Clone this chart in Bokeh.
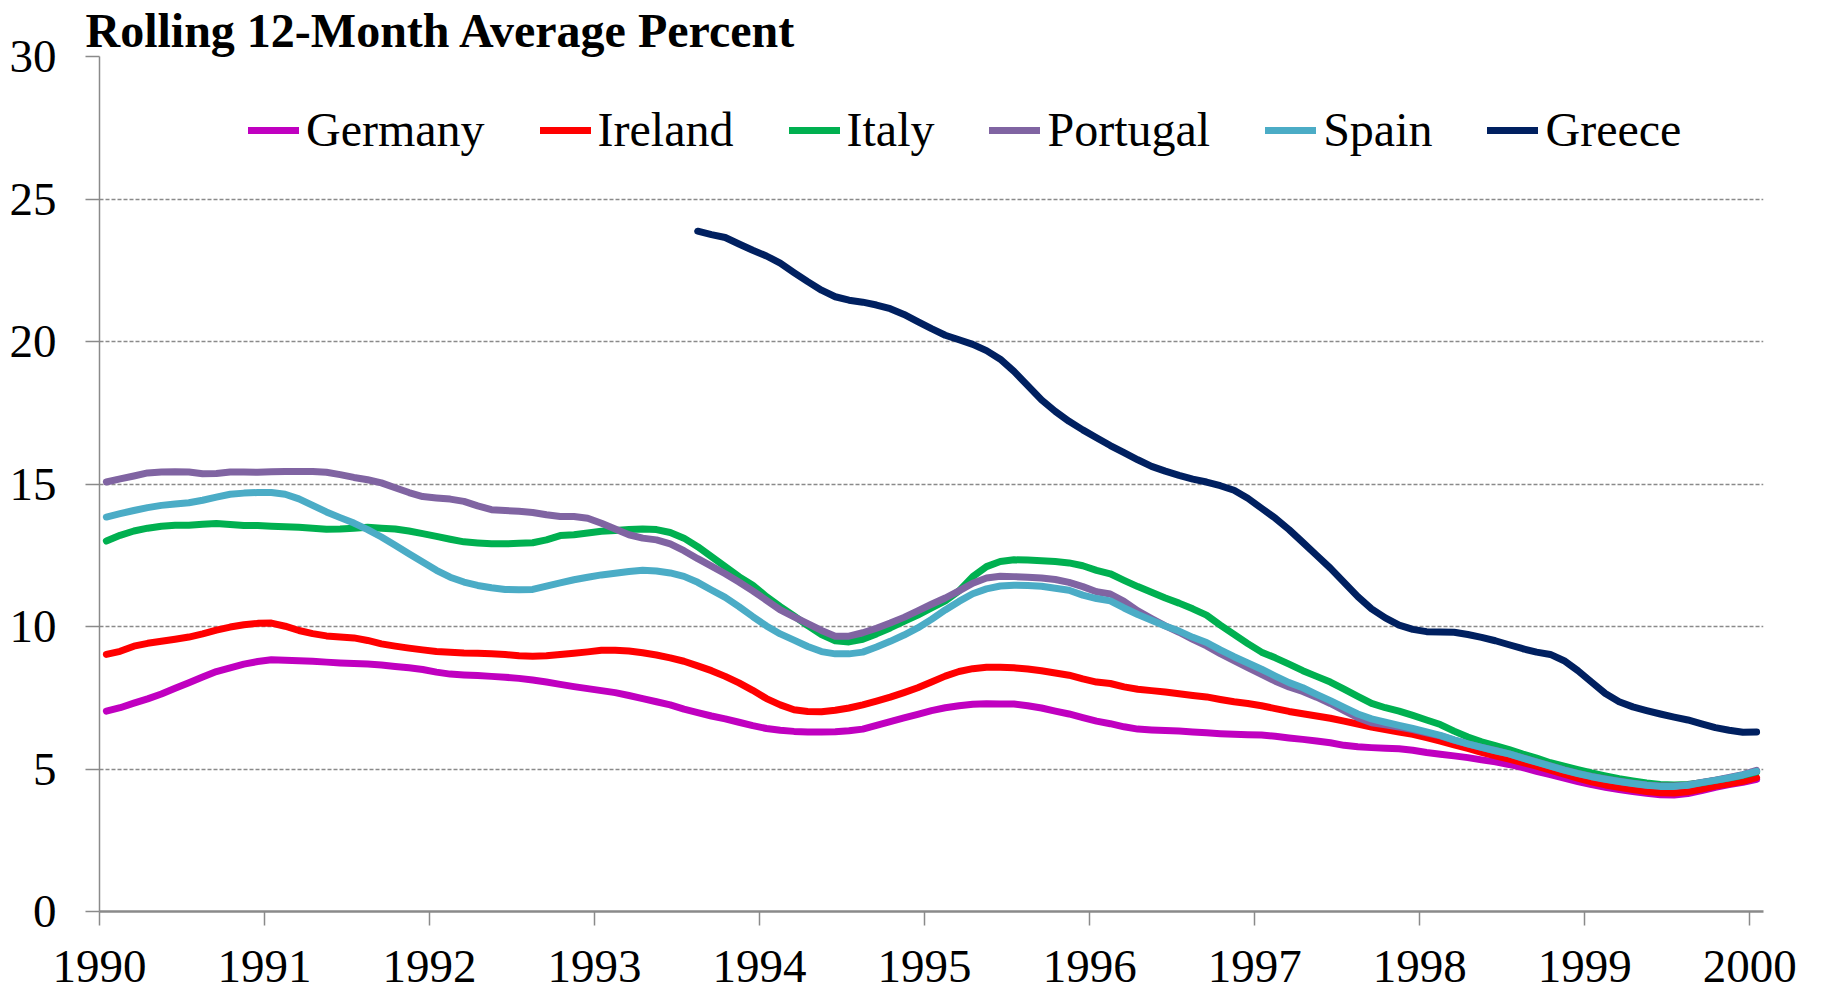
from bokeh.plotting import figure
from bokeh.models import Range1d, FixedTicker, Legend, LegendItem
from bokeh.embed import file_html
from bokeh.resources import INLINE

title_text = "Rolling 12-Month Average Percent"
first_year = 1990
n_months = 121          # Jan 1990 .. Jan 2000, monthly points at mid-month
greece_first_month = 43 # Aug 1993

year_ticks = list(range(1990, 2001))
year_labels = [str(y) for y in year_ticks]
value_ticks = [0, 5, 10, 15, 20, 25, 30]
value_labels = ["0", "5", "10", "15", "20", "25", "30"]

countries = ["Germany", "Ireland", "Italy", "Portugal", "Spain", "Greece"]

germany = [7.03, 7.15, 7.31, 7.46, 7.63, 7.83, 8.03, 8.23, 8.42, 8.55, 8.68, 8.77, 8.83,
           8.82, 8.80, 8.78, 8.75, 8.72, 8.70, 8.68, 8.65, 8.60, 8.55, 8.49, 8.40,
           8.33, 8.30, 8.28, 8.25, 8.22, 8.18, 8.12, 8.05, 7.97, 7.89, 7.82, 7.75,
           7.68, 7.58, 7.47, 7.36, 7.25, 7.10, 6.98, 6.86, 6.76, 6.64, 6.52, 6.42,
           6.36, 6.32, 6.30, 6.30, 6.31, 6.34, 6.40, 6.53, 6.66, 6.79, 6.92, 7.05,
           7.15, 7.22, 7.27, 7.29, 7.28, 7.28, 7.22, 7.14, 7.03, 6.93, 6.80, 6.68,
           6.59, 6.48, 6.40, 6.37, 6.35, 6.33, 6.30, 6.27, 6.24, 6.22, 6.20, 6.19,
           6.15, 6.09, 6.04, 5.98, 5.92, 5.83, 5.78, 5.75, 5.73, 5.71, 5.66, 5.58,
           5.52, 5.46, 5.40, 5.32, 5.25, 5.16, 5.05, 4.92, 4.80, 4.68, 4.56, 4.45,
           4.36, 4.28, 4.21, 4.15, 4.10, 4.09, 4.14, 4.24, 4.36, 4.45, 4.53, 4.64]

ireland = [9.02, 9.13, 9.31, 9.41, 9.48, 9.55, 9.63, 9.74, 9.87, 9.98, 10.06, 10.11, 10.12,
           10.01, 9.86, 9.75, 9.67, 9.63, 9.60, 9.51, 9.39, 9.31, 9.24, 9.18, 9.12,
           9.10, 9.07, 9.06, 9.04, 9.02, 8.97, 8.96, 8.97, 9.02, 9.06, 9.11, 9.17,
           9.17, 9.14, 9.08, 9.00, 8.90, 8.78, 8.62, 8.45, 8.25, 8.02, 7.76, 7.47,
           7.25, 7.08, 7.02, 7.01, 7.06, 7.14, 7.25, 7.38, 7.52, 7.68, 7.85, 8.05,
           8.26, 8.42, 8.52, 8.57, 8.57, 8.55, 8.51, 8.45, 8.37, 8.29, 8.16, 8.05,
           8.00, 7.88, 7.80, 7.75, 7.70, 7.64, 7.58, 7.53, 7.44, 7.36, 7.30, 7.22,
           7.12, 7.02, 6.94, 6.86, 6.78, 6.68, 6.58, 6.47, 6.38, 6.30, 6.22, 6.10,
           5.98, 5.85, 5.72, 5.58, 5.46, 5.35, 5.22, 5.10, 4.96, 4.82, 4.68, 4.55,
           4.44, 4.36, 4.28, 4.21, 4.17, 4.16, 4.20, 4.30, 4.40, 4.48, 4.57, 4.70]

italy = [13.00, 13.20, 13.35, 13.45, 13.52, 13.55, 13.55, 13.59, 13.61, 13.58, 13.54, 13.54, 13.52,
         13.50, 13.48, 13.45, 13.41, 13.42, 13.45, 13.48, 13.45, 13.42, 13.35, 13.26, 13.16,
         13.06, 12.97, 12.93, 12.90, 12.90, 12.92, 12.94, 13.04, 13.19, 13.22, 13.28, 13.34,
         13.37, 13.40, 13.42, 13.40, 13.30, 13.10, 12.80, 12.45, 12.10, 11.75, 11.45, 11.05,
         10.70, 10.37, 10.03, 9.72, 9.50, 9.46, 9.55, 9.74, 9.95, 10.18, 10.40, 10.65,
         10.90, 11.25, 11.75, 12.10, 12.28, 12.34, 12.33, 12.31, 12.28, 12.23, 12.13, 11.97,
         11.85, 11.62, 11.40, 11.20, 11.00, 10.82, 10.62, 10.40, 10.05, 9.72, 9.40, 9.10,
         8.90, 8.68, 8.45, 8.25, 8.05, 7.80, 7.55, 7.30, 7.15, 7.03, 6.88, 6.72,
         6.56, 6.33, 6.12, 5.95, 5.82, 5.68, 5.52, 5.38, 5.22, 5.10, 4.98, 4.86,
         4.76, 4.66, 4.58, 4.51, 4.46, 4.44, 4.46, 4.52, 4.60, 4.68, 4.78, 4.90]

portugal = [15.07, 15.18, 15.28, 15.39, 15.42, 15.43, 15.42, 15.36, 15.37, 15.42, 15.42, 15.41, 15.43,
            15.44, 15.44, 15.44, 15.41, 15.33, 15.23, 15.15, 15.04, 14.87, 14.70, 14.56, 14.51,
            14.47, 14.39, 14.23, 14.10, 14.07, 14.04, 14.00, 13.92, 13.86, 13.86, 13.80, 13.62,
            13.42, 13.22, 13.10, 13.04, 12.90, 12.66, 12.38, 12.12, 11.85, 11.56, 11.25, 10.92,
            10.58, 10.34, 10.10, 9.86, 9.66, 9.66, 9.78, 9.94, 10.12, 10.32, 10.55, 10.78,
            11.00, 11.25, 11.52, 11.70, 11.76, 11.75, 11.73, 11.70, 11.65, 11.55, 11.40, 11.22,
            11.14, 10.88, 10.55, 10.28, 10.02, 9.80, 9.55, 9.32, 9.05, 8.80, 8.56, 8.32,
            8.08, 7.88, 7.72, 7.52, 7.30, 7.05, 6.80, 6.62, 6.55, 6.47, 6.38, 6.27,
            6.16, 6.01, 5.88, 5.76, 5.65, 5.53, 5.39, 5.25, 5.11, 4.97, 4.85, 4.74,
            4.65, 4.57, 4.50, 4.44, 4.40, 4.40, 4.44, 4.53, 4.61, 4.70, 4.80, 4.95]

spain = [13.84, 13.96, 14.07, 14.17, 14.25, 14.30, 14.34, 14.43, 14.54, 14.64, 14.68, 14.70, 14.70,
         14.64, 14.48, 14.25, 14.02, 13.82, 13.63, 13.40, 13.14, 12.85, 12.55, 12.26, 11.97,
         11.73, 11.56, 11.44, 11.36, 11.30, 11.29, 11.30, 11.42, 11.53, 11.64, 11.73, 11.81,
         11.87, 11.93, 11.97, 11.95, 11.88, 11.76, 11.55, 11.28, 11.02, 10.70, 10.35, 10.02,
         9.74, 9.52, 9.30, 9.12, 9.04, 9.04, 9.10, 9.28, 9.48, 9.70, 9.95, 10.25,
         10.58, 10.88, 11.15, 11.32, 11.42, 11.45, 11.44, 11.41, 11.34, 11.27, 11.10, 10.98,
         10.90, 10.65, 10.42, 10.22, 10.02, 9.84, 9.62, 9.44, 9.18, 8.94, 8.72, 8.50,
         8.26, 8.03, 7.85, 7.62, 7.40, 7.16, 6.93, 6.76, 6.64, 6.53, 6.42, 6.30,
         6.18, 6.02, 5.88, 5.76, 5.64, 5.53, 5.38, 5.24, 5.10, 4.96, 4.84, 4.73,
         4.64, 4.56, 4.49, 4.43, 4.39, 4.39, 4.43, 4.52, 4.60, 4.69, 4.79, 4.92]

greece = [23.87, 23.75, 23.65, 23.42, 23.20, 23.00, 22.75, 22.42, 22.10, 21.80,
          21.57, 21.45, 21.38, 21.28, 21.15, 20.95, 20.70, 20.45, 20.22, 20.06,
          19.90, 19.68, 19.38, 18.95, 18.45, 17.95, 17.55, 17.20, 16.90, 16.62,
          16.35, 16.10, 15.85, 15.62, 15.45, 15.30, 15.17, 15.07, 14.94, 14.78,
          14.50, 14.15, 13.80, 13.40, 12.95, 12.50, 12.05, 11.55, 11.05, 10.62,
          10.30, 10.05, 9.90, 9.82, 9.81, 9.80, 9.72, 9.62, 9.50, 9.36,
          9.22, 9.10, 9.02, 8.80, 8.45, 8.05, 7.65, 7.36, 7.18, 7.05,
          6.93, 6.82, 6.72, 6.58, 6.45, 6.36, 6.29, 6.30]

colors = ["#C000C0", "#FF0000", "#00B050", "#8064A2", "#4BACC6", "#002060"]

months = [first_year + (m + 0.5) / 12 for m in range(n_months)]
series = [germany, ireland, italy, portugal, spain, greece]
xs = [months, months, months, months, months, months[greece_first_month:]]

GRAY = "#8a8a8a"
FONT = "Liberation Serif"

p = figure(width=1800, height=991,
           x_range=Range1d(first_year, 2000 + 1 / 12), y_range=Range1d(0, 30),
           output_backend="svg", toolbar_location=None,
           min_border_left=99, min_border_top=56, min_border_right=37, min_border_bottom=80)
p.outline_line_color = None
p.background_fill_color = "white"
p.border_fill_color = "white"

p.title.text = title_text
p.title.align = "left"
p.title.offset = -14
p.title.standoff = 0
p.title.text_font = FONT
p.title.text_font_style = "bold"
p.title.text_font_size = "48px"
p.title.text_color = "black"

items = []
for name, xv, yv, col in zip(countries, xs, series, colors):
    r = p.line(xv, yv, line_color=col, line_width=7, line_cap="round", line_join="round")
    items.append(LegendItem(label=name, renderers=[r]))

legend = Legend(items=items, orientation="horizontal", location=(149, 754),
                label_text_font=FONT, label_text_font_size="48px", label_text_color="black",
                glyph_width=51, glyph_height=20, label_standoff=7, spacing=55,
                padding=0, margin=0, border_line_alpha=0, background_fill_alpha=0)
p.add_layout(legend)

# axes
p.xaxis.ticker = FixedTicker(ticks=year_ticks)
p.xaxis.major_label_overrides = dict(zip(year_ticks, year_labels))
p.yaxis.ticker = FixedTicker(ticks=value_ticks)
p.yaxis.major_label_overrides = dict(zip(value_ticks, value_labels))
for ax in (p.xaxis, p.yaxis):
    ax.axis_line_color = GRAY
    ax.major_tick_line_color = GRAY
    ax.major_tick_line_width = 1.5
    ax.major_tick_out = 14
    ax.major_tick_in = 0
    ax.minor_tick_out = 0
    ax.minor_tick_in = 0
    ax.major_label_text_font = FONT
    ax.major_label_text_font_size = "47px"
    ax.major_label_text_color = "black"
p.xaxis.axis_line_width = 2.5
p.yaxis.axis_line_width = 1.5
p.xaxis.major_label_standoff = 25
p.yaxis.major_label_standoff = 29

p.xgrid.visible = False
p.ygrid.grid_line_color = GRAY
p.ygrid.grid_line_dash = "4 2"
p.ygrid.grid_line_width = 1.5

open("out.html", "w").write(file_html(p, INLINE))
